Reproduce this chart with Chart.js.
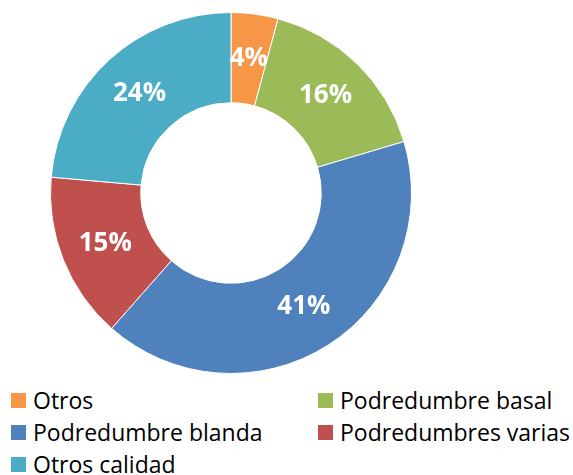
<!DOCTYPE html>
<html>
<head>
<meta charset="utf-8">
<script src="https://cdn.jsdelivr.net/npm/chart.js@4"></script>
<style>
   html, body { margin: 0; padding: 0; background: #fff; }
   #wrap { position: relative; width: 573px; height: 475px; overflow: hidden; }
   #chartBox { position: absolute; left: 50px; top: 12px; width: 362px; height: 362px; }
   #legend { position: absolute; left: 11px; top: 385px; width: 562px; font-family: "Open Sans", sans-serif; font-size: 23px; color: #000; }
   .item { position: absolute; height: 32px; line-height: 32px; white-space: nowrap; }
   .box { position: absolute; left: 0; top: 8px; width: 15px; height: 15px; }
   .txt { position: absolute; left: 22px; top: -1px; }
</style>
</head>
<body>
<div id="wrap">
   <div id="chartBox"><canvas id="chart1" width="362" height="362"></canvas></div>
   <div id="legend"></div>
</div>
<script>
/*=================================>> DATA <<=================================*/

const categories = ["Otros", "Podredumbre basal", "Podredumbre blanda", "Podredumbres varias", "Otros calidad"];
const shares = [4.2, 16.2, 41.1, 14.9, 23.6];
const colors = ["#F79646", "#9BBB59", "#4F81BD", "#C0504D", "#4BACC6"];

/*=================================>> LABELS <<=================================*/

const sliceLabels = {
   id: "sliceLabels",
   afterDatasetsDraw(chart) {
      const ctx = chart.ctx;
      const meta = chart.getDatasetMeta(0);
      const total = shares.reduce((a, b) => a + b, 0);
      ctx.save();
      ctx.font = 'bold 26px "Open Sans"';
      ctx.fillStyle = "#fff";
      ctx.textAlign = "center";
      ctx.textBaseline = "middle";
      meta.data.forEach((arc, i) => {
         const pos = arc.tooltipPosition();
         const pct = Math.round(shares[i] / total * 100);
         ctx.fillText(`${pct}%`, pos.x, pos.y);
      });
      ctx.restore();
   }
};

/*=================================>> CHART <<=================================*/

const canva = document.querySelector("#chart1");
new Chart(canva, {
   type: "doughnut",
   data: {
      labels: categories,
      datasets: [{
         data: shares,
         backgroundColor: colors,
         borderColor: "#fff",
         borderWidth: 1,
      }]
   },
   options: {
      responsive: false,
      animation: false,
      cutout: "50%",
      layout: { padding: 0 },
      plugins: {
         legend: { display: false },
         tooltip: { enabled: false },
      }
   },
   plugins: [sliceLabels]
});

// two column legend, filled row by row
const legend = document.querySelector("#legend");
categories.forEach((name, i) => {
   const item = document.createElement("div");
   item.className = "item";
   item.style.left = (i % 2 === 0 ? 0 : 307) + "px";
   item.style.top = (Math.floor(i / 2) * 32) + "px";
   item.innerHTML = `<span class="box" style="background:${colors[i]}"></span><span class="txt">${name}</span>`;
   legend.appendChild(item);
});
</script>
</body>
</html>
